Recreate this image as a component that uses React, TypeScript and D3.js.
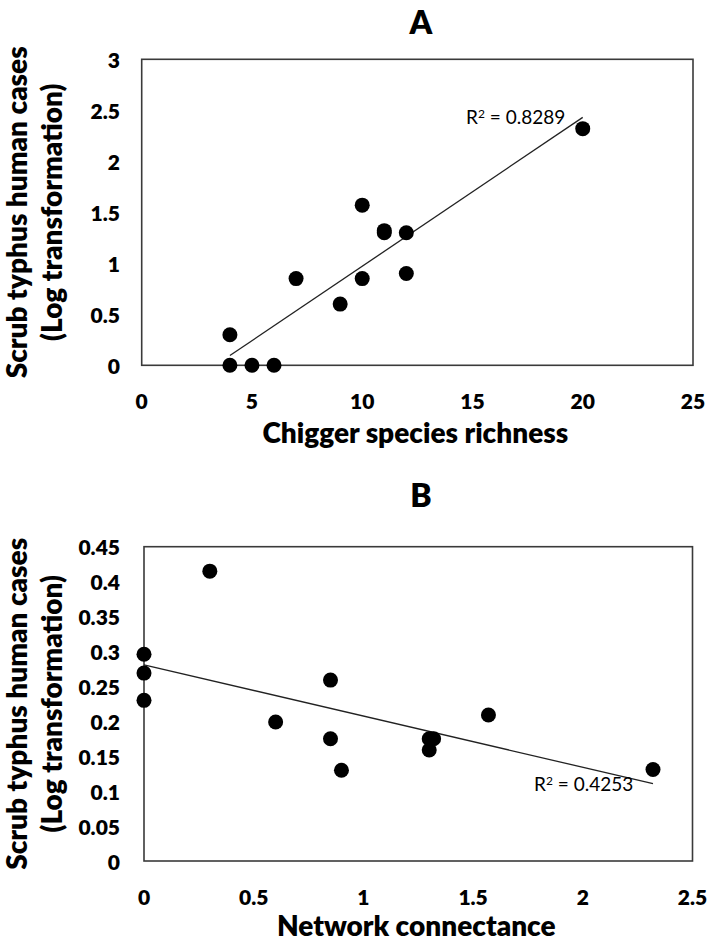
import React from "react";
import * as d3 from "d3";

// ---------- DATA ----------
const speciesRichness = [4, 4, 5, 6, 7, 9, 10, 10, 11, 11, 12, 12, 20];
const casesA = [0.30, 0, 0, 0, 0.85, 0.60, 1.57, 0.85, 1.32, 1.30, 1.30, 0.90, 2.32];
const xTicksA = [0, 5, 10, 15, 20, 25];
const yTicksA = [0, 0.5, 1, 1.5, 2, 2.5, 3];

const connectance = [0, 0, 0, 0.30, 0.60, 0.85, 0.85, 0.90, 1.30, 1.32, 1.30, 1.57, 2.32];
const casesB = [0.296, 0.269, 0.230, 0.415, 0.199, 0.259, 0.175, 0.130, 0.175, 0.175, 0.159, 0.209, 0.131];
const xTicksB = [0, 0.5, 1, 1.5, 2, 2.5];
const yTicksB = [0, 0.05, 0.1, 0.15, 0.2, 0.25, 0.3, 0.35, 0.4, 0.45];

const FONT = "Lato, 'Open Sans', sans-serif";
const HEAVY = 800;

function linreg(xs: number[], ys: number[]) {
  const mx = d3.mean(xs) as number;
  const my = d3.mean(ys) as number;
  let sxy = 0, sxx = 0;
  xs.forEach((x, i) => { sxy += (x - mx) * (ys[i] - my); sxx += (x - mx) * (x - mx); });
  const slope = sxy / sxx;
  return { slope, intercept: my - slope * mx };
}

type PanelProps = {
  letter: string;
  letterY: number;
  xs: number[];
  ys: number[];
  xDomain: [number, number];
  yDomain: [number, number];
  xRange: [number, number];
  yRange: [number, number];
  xTicks: number[];
  yTicks: number[];
  xTitle: string;
  xTitleY: number;
  r2: string;
  r2Pos: [number, number];
};

function Panel(p: PanelProps) {
  const x = d3.scaleLinear().domain(p.xDomain).range(p.xRange);
  const y = d3.scaleLinear().domain(p.yDomain).range(p.yRange);
  const { slope, intercept } = linreg(p.xs, p.ys);
  const [x0, x1] = d3.extent(p.xs) as [number, number];
  const line = d3.line<number>().x((d) => x(d)).y((d) => y(intercept + slope * d));
  const left = p.xRange[0], right = p.xRange[1];
  const top = p.yRange[1], bottom = p.yRange[0];
  const cy = (top + bottom) / 2;
  const cx = (left + right) / 2;
  return (
    <g>
      <text x={421} y={p.letterY} textAnchor="middle" fontFamily={FONT} fontWeight={HEAVY} fontSize={32} fill="#000">{p.letter}</text>
      <rect x={left} y={top} width={right - left} height={bottom - top} fill="none" stroke="#3a3a3a" strokeWidth={1.6} />
      {p.yTicks.map((t) => (
        <text key={"y" + t} x={120} y={y(t)} textAnchor="end" dominantBaseline="central" fontFamily={FONT} fontWeight={HEAVY} fontSize={21} fill="#000">{String(t)}</text>
      ))}
      {p.xTicks.map((t) => (
        <text key={"x" + t} x={x(t)} y={bottom + 35} textAnchor="middle" dominantBaseline="central" fontFamily={FONT} fontWeight={HEAVY} fontSize={21} fill="#000">{String(t)}</text>
      ))}
      <path d={line([x0, x1]) as string} fill="none" stroke="#222" strokeWidth={1.3} />
      {p.xs.map((d, i) => (
        <circle key={i} cx={x(d)} cy={y(p.ys[i])} r={7.5} fill="#000" />
      ))}
      <text x={p.r2Pos[0]} y={p.r2Pos[1]} fontFamily={FONT} fontSize={19} fill="#000">
        R<tspan dy={-6} fontSize={12}>2</tspan><tspan dy={6}> = {p.r2}</tspan>
      </text>
      <text x={cx - 2} y={p.xTitleY} textAnchor="middle" fontFamily={FONT} fontWeight={HEAVY} fontSize={28} fill="#000">{p.xTitle}</text>
      <g transform={`translate(16,${cy}) rotate(-90)`}>
        <text x={0} y={0} textAnchor="middle" dominantBaseline="central" fontFamily={FONT} fontWeight={HEAVY} fontSize={28} fill="#000">Scrub typhus human cases</text>
      </g>
      <g transform={`translate(51,${cy}) rotate(-90)`}>
        <text x={0} y={0} textAnchor="middle" dominantBaseline="central" fontFamily={FONT} fontWeight={HEAVY} fontSize={28} fill="#000">(Log transformation)</text>
      </g>
    </g>
  );
}

export default function App() {
  return (
    <svg width={709} height={944} style={{ position: "absolute", left: 0, top: 0, background: "#fff" }}>
      <rect width={709} height={944} fill="#fff" />
      <Panel
        letter="A"
        letterY={34}
        xs={speciesRichness}
        ys={casesA}
        xDomain={[0, 25]}
        yDomain={[0, 3]}
        xRange={[141.7, 693]}
        yRange={[365.3, 59.3]}
        xTicks={xTicksA}
        yTicks={yTicksA}
        xTitle="Chigger species richness"
        xTitleY={443}
        r2="0.8289"
        r2Pos={[466, 124]}
      />
      <Panel
        letter="B"
        letterY={507}
        xs={connectance}
        ys={casesB}
        xDomain={[0, 2.5]}
        yDomain={[0, 0.45]}
        xRange={[144, 692.5]}
        yRange={[861, 546.7]}
        xTicks={xTicksB}
        yTicks={yTicksB}
        xTitle="Network connectance"
        xTitleY={936}
        r2="0.4253"
        r2Pos={[534, 791]}
      />
    </svg>
  );
}
